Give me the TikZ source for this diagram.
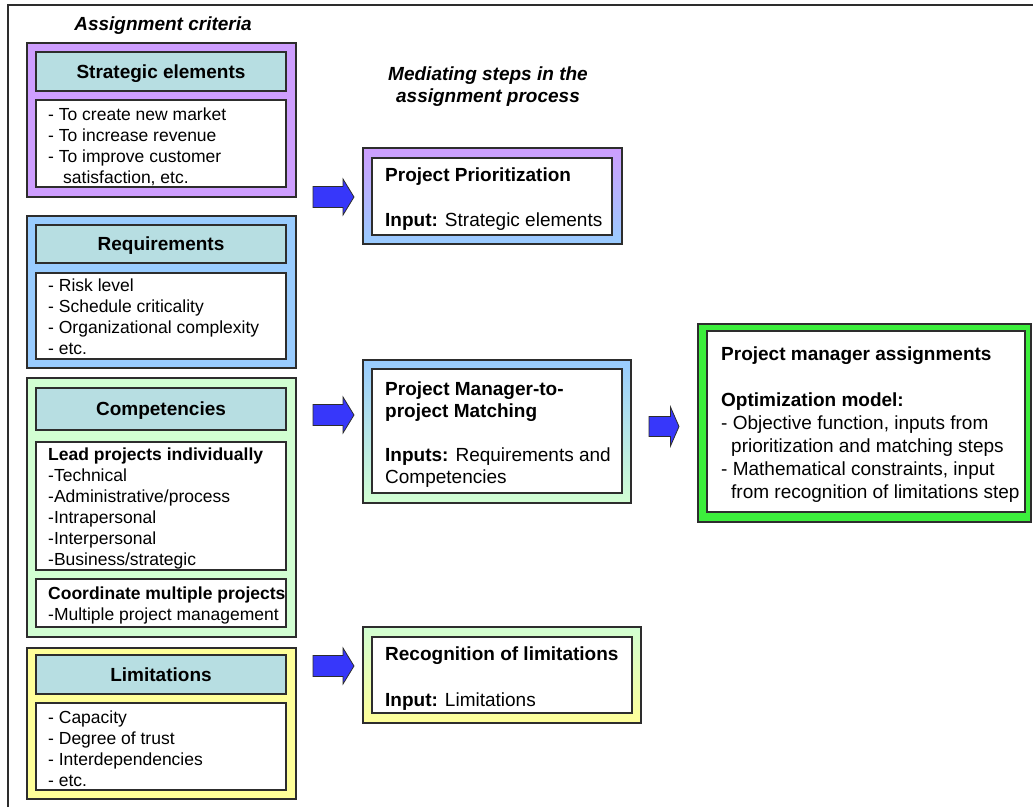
\documentclass[tikz,border=0pt]{standalone}
\usepackage{fontspec}
\setmainfont{Liberation Sans}
\definecolor{purp}{RGB}{206,158,255}
\definecolor{lblue}{RGB}{153,204,255}
\definecolor{lgreen}{RGB}{210,255,210}
\definecolor{lyellow}{RGB}{255,255,153}
\definecolor{hdrteal}{RGB}{183,222,226}
\definecolor{bgreen}{RGB}{60,238,60}
\definecolor{arrblue}{RGB}{55,55,250}
\definecolor{edgegray}{RGB}{45,45,45}
\newcommand\mkbox[6]{%
  \node[#1, inner sep=0pt, outer sep=0pt,
        minimum width={#5pt-#3pt}, minimum height={#6pt-#4pt}]
        (#2) at ({(#3+#5)/2},{(#4+#6)/2}) {};}
\begin{document}
\begin{tikzpicture}[x=1pt,y=-1pt,
  edgeline/.style={draw=edgegray,line width=1.2pt},
  outerbox/.style={edgeline, fill=#1},
  gradbox/.style 2 args={edgeline, top color=#1, bottom color=#2},
  hdrbox/.style={edgeline, fill=hdrteal},
  whitebox/.style={edgeline, fill=white},
  hdrtext/.style={font=\fontsize{19}{22}\selectfont\bfseries, inner sep=0pt, text height=13.7pt, text depth=0pt},
  listtext/.style={font=\fontsize{17.5}{21}\selectfont, align=left, anchor=base west, inner sep=0pt},
  steptext/.style={font=\fontsize{19}{#1}\selectfont, align=left, anchor=base west, inner sep=0pt},
  titletext/.style={font=\fontsize{19}{22}\selectfont\bfseries\itshape, align=center, inner sep=0pt},
  blockarrow/.style={draw=edgegray, line width=0.8pt, fill=arrblue, line join=miter}]
\useasboundingbox (0,0) rectangle (1033,807);
\fill[white] (0,0) rectangle (1033,807);
% outer frame
\draw[draw=edgegray, line width=1.3pt] (8,807) -- (8,5) -- (1033,5);

% titles (multi-line nodes: base anchor = last line's baseline)
\node[titletext, text height=13.7pt, text depth=0pt] (tcrit) at (163,24) {Assignment criteria};
\node[titletext, anchor=base] (tmed) at (488,102) {Mediating steps in the\\assignment process};

% Strategic elements
\mkbox{outerbox=purp}{strat}{27}{43}{296}{197}
\mkbox{hdrbox}{strathdr}{36}{52}{286}{91}
\mkbox{whitebox}{stratbody}{36}{100}{286}{187}
\node[hdrtext] (strattxt) at (strathdr.center) {Strategic elements};
\node[listtext] (stratlist) at (48,183) {- To create new market\\- To increase revenue\\- To improve customer\\\hspace{15pt}satisfaction, etc.};

% Requirements
\mkbox{outerbox=lblue}{req}{27}{216}{296}{368}
\mkbox{hdrbox}{reqhdr}{36}{225}{286}{263}
\mkbox{whitebox}{reqbody}{36}{273}{286}{359}
\node[hdrtext] (reqtxt) at (reqhdr.center) {Requirements};
\node[listtext] (reqlist) at (48,354) {- Risk level\\- Schedule criticality\\- Organizational complexity\\- etc.};

% Competencies
\mkbox{outerbox=lgreen}{comp}{27}{378}{296}{637}
\mkbox{hdrbox}{comphdr}{36}{388}{286}{430}
\mkbox{whitebox}{compbody}{36}{442}{286}{570}
\mkbox{whitebox}{compcoord}{36}{579}{286}{627}
\node[hdrtext] (comptxt) at (comphdr.center) {Competencies};
\node[listtext] (complist) at (48,565) {\textbf{Lead projects individually}\\-Technical\\-Administrative/process\\-Intrapersonal\\-Interpersonal\\-Business/strategic};
\node[listtext] (coordlist) at (48,620) {\textbf{Coordinate multiple projects}\\-Multiple project management};

% Limitations
\mkbox{outerbox=lyellow}{lim}{27}{648}{296}{799}
\mkbox{hdrbox}{limhdr}{36}{655}{286}{694}
\mkbox{whitebox}{limbody}{36}{703}{286}{790}
\node[hdrtext] (limtxt) at (limhdr.center) {Limitations};
\node[listtext] (limlist) at (48,786) {- Capacity\\- Degree of trust\\- Interdependencies\\- etc.};

% Mediating steps
\mkbox{gradbox={purp}{lblue}}{prio}{363}{148}{622}{244}
\mkbox{whitebox}{prioin}{372}{158}{612}{235}
\node[steptext=22.5] (priotxt) at (385,226) {\textbf{Project Prioritization}\\ \mbox{}\\\textbf{Input:} Strategic elements};

\mkbox{gradbox={lblue}{lgreen}}{match}{363}{360}{631}{503}
\mkbox{whitebox}{matchin}{372}{369}{622}{493}
\node[steptext=22] (matchtxt) at (385,483) {\textbf{Project Manager-to-}\\\textbf{project Matching}\\ \mbox{}\\\textbf{Inputs:} Requirements and\\Competencies};

\mkbox{gradbox={lgreen}{lyellow}}{recog}{363}{627}{641}{723}
\mkbox{whitebox}{recogin}{372}{637}{632}{713}
\node[steptext=23] (recogtxt) at (385,706) {\textbf{Recognition of limitations}\\ \mbox{}\\\textbf{Input:} Limitations};

% Final box
\mkbox{outerbox=bgreen}{final}{698}{324}{1031}{522}
\mkbox{whitebox}{finalin}{707}{331}{1025}{512}
\node[steptext=23] (finaltxt) at (721,498) {\textbf{Project manager assignments}\\ \mbox{}\\\textbf{Optimization model:}\\- Objective function, inputs from\\\hspace{10pt}prioritization and matching steps\\- Mathematical constraints, input\\\hspace{10pt}from recognition of limitations step};

% block arrows
\draw[blockarrow, shift={(313,197)}] (0,-10.5) -- (30,-10.5) -- (30,-18) -- (41,0) -- (30,18) -- (30,10.5) -- (0,10.5) -- cycle;
\draw[blockarrow, shift={(313,415)}] (0,-10.5) -- (30,-10.5) -- (30,-18) -- (41,0) -- (30,18) -- (30,10.5) -- (0,10.5) -- cycle;
\draw[blockarrow, shift={(313,666)}] (0,-10.5) -- (30,-10.5) -- (30,-18) -- (41,0) -- (30,18) -- (30,10.5) -- (0,10.5) -- cycle;
\draw[blockarrow, shift={(649,426.5)}] (0,-10) -- (21.5,-10) -- (21.5,-19.5) -- (30,0) -- (21.5,19.5) -- (21.5,10) -- (0,10) -- cycle;
\end{tikzpicture}
\end{document}
